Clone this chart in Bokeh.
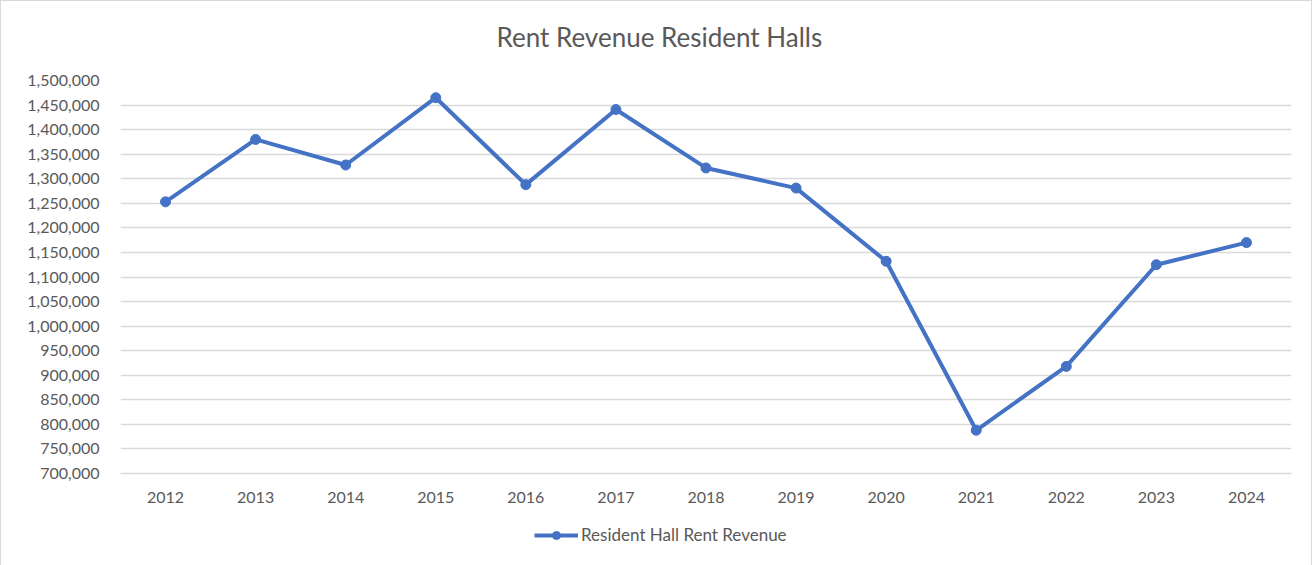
from bokeh.plotting import figure
from bokeh.layouts import column
from bokeh.models import FactorRange, Range1d, FixedTicker, NumeralTickFormatter, Legend, LegendItem, ColumnDataSource
from bokeh.embed import file_html
from bokeh.resources import INLINE

years = ["2012", "2013", "2014", "2015", "2016", "2017", "2018", "2019", "2020", "2021", "2022", "2023", "2024"]
revenue = [1253000, 1380000, 1328000, 1465000, 1288000, 1441000, 1322000, 1281000, 1132000, 788000, 918000, 1125000, 1170000]
y_ticks = list(range(700000, 1500001, 50000))
series_name = "Resident Hall Rent Revenue"
chart_title = "Rent Revenue Resident Halls"

BLUE = "#4472C4"
GREY_TEXT = "#595959"
GRID = "#d9d9d9"


def strip(height):
    f = figure(width=1310, height=height, x_range=Range1d(0, 1), y_range=Range1d(0, 1),
               output_backend="svg", toolbar_location=None,
               min_border_left=0, min_border_right=0, min_border_top=0, min_border_bottom=0)
    f.outline_line_color = None
    f.axis.visible = False
    f.grid.visible = False
    return f


# title strip
tf = strip(70)
tf.title.text = chart_title
tf.title.align = "left"
tf.title.offset = 376
tf.title.vertical_align = "bottom"
tf.title.text_font = "Lato"
tf.title.text_font_size = "26px"
tf.title.text_font_style = "normal"
tf.title.text_color = GREY_TEXT
tf.title.standoff = 34

# main chart
src = ColumnDataSource(dict(year=years, revenue=revenue))
p = figure(width=1310, height=442, x_range=FactorRange(*years, range_padding=0),
           y_range=Range1d(700000, 1500000), output_backend="svg", toolbar_location=None,
           min_border_left=119, min_border_right=20, min_border_top=9, min_border_bottom=40)
p.outline_line_color = None

p.line("year", "revenue", source=src, line_color=BLUE, line_width=4, line_join="round")
p.scatter("year", "revenue", source=src, size=10, fill_color=BLUE, line_color=BLUE)

p.yaxis.ticker = FixedTicker(ticks=y_ticks)
p.yaxis.formatter = NumeralTickFormatter(format="0,0")
for ax in (p.xaxis[0], p.yaxis[0]):
    ax.axis_line_color = None
    ax.major_tick_line_color = None
    ax.minor_tick_line_color = None
    ax.major_label_text_font = "Lato"
    ax.major_label_text_font_size = "16px"
    ax.major_label_text_color = GREY_TEXT
p.xaxis.axis_line_color = GRID
p.xaxis.axis_line_width = 1.3
p.yaxis.major_label_standoff = 15
p.xaxis.major_label_standoff = 12

p.xgrid.grid_line_color = None
p.ygrid.grid_line_color = GRID
p.ygrid.grid_line_width = 1.3
p.ygrid.ticker = FixedTicker(ticks=y_ticks)

# legend strip below the chart (its renderers hold one point outside the view)
lf = strip(53)
offscreen = ColumnDataSource(dict(x=[-10, -11], y=[-10, -11]))
lg_line = lf.line("x", "y", source=offscreen, line_color=BLUE, line_width=4)
lg_dot = lf.scatter("x", "y", source=offscreen, size=10, fill_color=BLUE, line_color=BLUE)
legend = Legend(items=[LegendItem(label=series_name, renderers=[lg_line, lg_dot])],
                location=(414, 21), orientation="horizontal", border_line_color=None,
                background_fill_alpha=0,
                label_text_font="Lato", label_text_font_size="17px", label_text_color=GREY_TEXT,
                glyph_width=44, label_standoff=3, padding=4, margin=0)
lf.add_layout(legend, "center")

layout = column(tf, p, lf, spacing=0, styles={"border": "1px solid #d9d9d9"})

open("out.html", "w").write(file_html(layout, INLINE))
